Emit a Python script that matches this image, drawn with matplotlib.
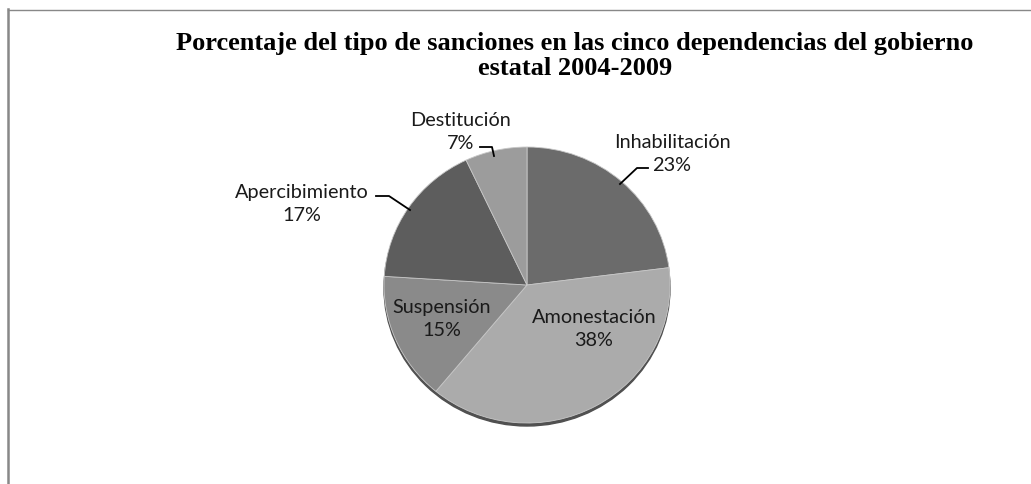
import matplotlib.pyplot as plt
from matplotlib.transforms import Affine2D
from matplotlib.patches import Ellipse

categorias = ['Inhabilitación', 'Amonestación', 'Suspensión', 'Apercibimiento', 'Destitución']
porcentajes = [23, 38, 15, 17, 7]
colores = ['#6b6b6b', '#ababab', '#8a8a8a', '#5d5d5d', '#9c9c9c']

W, H = 1031, 485
cx, cy = 527, H - 286   # centro del pastel (px)
rx, ry = 143, 138       # radios (ligeramente eliptico)

# posiciones de etiquetas en px (x, y desde arriba)
pos_etiquetas = [(672, 154), (594, 329), (442, 319), (302, 204), (461, 132)]
# lineas guia (px desde arriba), None si la etiqueta esta dentro
guias = [[(648, 169), (637, 169), (620, 185)],
         None,
         None,
         [(376, 197), (389, 197), (410, 211)],
         [(480, 148), (492, 148), (494, 157)]]

fig = plt.figure(figsize=(W / 100, H / 100), dpi=100)
ax = fig.add_axes([0, 0, 1, 1])

tr = Affine2D().scale(rx, ry).translate(cx, cy) + ax.transData
sombra = Ellipse((cx, cy - 3), 2 * rx, 2 * ry, color='#505050', zorder=0)
ax.add_patch(sombra)
wedges, _ = ax.pie(porcentajes, colors=colores, startangle=90, counterclock=False,
                   radius=1, center=(0, 0),
                   wedgeprops=dict(edgecolor='#c8c8c8', linewidth=0.6))
for w in wedges:
    w.set_transform(tr)
    w.set_zorder(1)

ax.set_xlim(0, W)
ax.set_ylim(0, H)
ax.set_aspect('auto')
ax.axis('off')

for nombre, p, (x, y), g in zip(categorias, porcentajes, pos_etiquetas, guias):
    ax.text(x, H - y, '{}\n{}%'.format(nombre, p), ha='center', va='center',
            fontsize=14.3, family='Lato', linespacing=1.45, color='#1a1a1a', zorder=3)
    if g is not None:
        ax.plot([q[0] for q in g], [H - q[1] for q in g], color='black', lw=1.3, zorder=3)

# marco del grafico
ax.plot([8, 8], [0, H - 10], color='#888888', lw=1.8, zorder=0)
ax.plot([8, W], [H - 10.5, H - 10.5], color='#888888', lw=1, zorder=0)

fig.text(575 / W, 1 - 56 / H, 'Porcentaje del tipo de sanciones en las cinco dependencias del gobierno\nestatal 2004-2009',
         ha='center', va='center', fontsize=19, fontweight='bold', family='Liberation Serif',
         linespacing=1.12)

fig.savefig('out.png', dpi=100)
